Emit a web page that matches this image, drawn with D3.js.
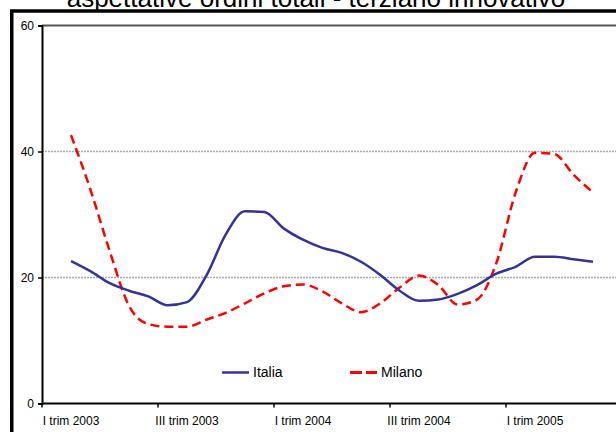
<!DOCTYPE html>
<html>
<head>
<meta charset="utf-8">
<script src="https://cdn.jsdelivr.net/npm/d3@7"></script>
<style>
  body { margin: 0; background: #fff; }
  svg { display: block; font-family: "Liberation Sans", Arial, sans-serif; }
</style>
</head>
<body>
<div id="chart"></div>
<script>
// quarters on the category axis (only every other one is labelled)
var quarters = ["I trim 2003", "II trim 2003", "III trim 2003", "IV trim 2003",
                "I trim 2004", "II trim 2004", "III trim 2004", "IV trim 2004",
                "I trim 2005", "II trim 2005"];
var labelQuarters = ["I trim 2003", "III trim 2003", "I trim 2004", "III trim 2004", "I trim 2005"];
var yTicks = [0, 20, 40, 60];

// monthly readings, first one sits in the middle of I trim 2003
var italia = [22.6, 21.0, 19.1, 17.9, 17.0, 15.6, 16.1, 20.3, 26.8, 30.5,
              30.4, 27.8, 26.0, 24.7, 23.9, 22.5, 20.4, 17.9, 16.3, 16.5,
              17.4, 18.8, 20.6, 21.7, 23.3, 23.3, 22.9, 22.5];
var milano = [42.6, 34.0, 24.2, 15.5, 12.6, 12.2, 12.2, 13.3, 14.4, 15.9,
              17.5, 18.6, 18.9, 17.8, 15.9, 14.5, 15.9, 18.4, 20.3, 18.8,
              15.7, 16.5, 22.3, 33.5, 39.8, 39.6, 36.3, 33.5];

function main() {
   drawChart();
}

function drawChart() {
   var W = 616, H = 432;
   var left = 42, right = 622, top = 25.5, bottom = 403.5;

   var svg = d3.select("#chart").append("svg")
      .attr("width", W)
      .attr("height", H);

   // outer chart border (cropped on right and bottom)
   svg.append("rect")
      .attr("x", 11.75).attr("y", 11)
      .attr("width", 700).attr("height", 500)
      .attr("fill", "none")
      .attr("stroke", "#000")
      .attr("stroke-width", 3.5);

   // title, mostly cut off at the top
   svg.append("text")
      .attr("x", 316).attr("y", 6.5)
      .attr("text-anchor", "middle")
      .style("font-size", "26px")
      .text("aspettative ordini totali - terziario innovativo");

   var xBand = d3.scaleBand()
      .domain(quarters)
      .range([left, right]);

   var x = d3.scaleLinear()
      .domain([0, quarters.length])
      .range([left, right]);

   var y = d3.scaleLinear()
      .domain([0, 60])
      .range([bottom, top]);

   // gridlines
   svg.append("g")
      .selectAll("line")
      .data(yTicks.filter(function(d) { return d > 0; }))
      .enter().append("line")
         .attr("x1", left).attr("x2", right)
         .attr("y1", function(d) { return y(d); })
         .attr("y2", function(d) { return y(d); })
         .attr("stroke", function(d) { return d == 60 ? "#555" : "#aaa"; })
         .attr("stroke-width", function(d) { return d == 60 ? 2 : 1.5; })
         .attr("stroke-dasharray", function(d) { return d == 60 ? null : "2,1"; });

   // y axis
   var yAxis = d3.axisLeft(y)
      .tickValues(yTicks)
      .tickSize(4)
      .tickPadding(4);
   var gy = svg.append("g")
      .attr("transform", "translate(" + left + ",0)")
      .call(yAxis);
   gy.select(".domain").attr("stroke", "#000").attr("stroke-width", 2);
   gy.selectAll(".tick line").attr("stroke", "#000").attr("stroke-width", 1.5);
   gy.selectAll("text").style("font-size", "12px").attr("fill", "#000")
      .attr("font-family", null);

   // x axis: labels centred in their quarter, ticks every two quarters
   var xAxis = d3.axisBottom(xBand)
      .tickValues(labelQuarters)
      .tickSize(0)
      .tickPadding(13);
   var gx = svg.append("g")
      .attr("transform", "translate(0," + bottom + ")")
      .call(xAxis);
   gx.select(".domain").remove();
   gx.selectAll("text").style("font-size", "12px").attr("fill", "#000")
      .attr("font-family", null);

   svg.append("line")
      .attr("x1", left).attr("x2", right)
      .attr("y1", bottom).attr("y2", bottom)
      .attr("stroke", "#000").attr("stroke-width", 2);

   svg.append("g")
      .selectAll("line")
      .data(labelQuarters)
      .enter().append("line")
         .attr("x1", function(d) { return xBand(d); })
         .attr("x2", function(d) { return xBand(d); })
         .attr("y1", bottom).attr("y2", bottom + 4)
         .attr("stroke", "#000").attr("stroke-width", 1.5);

   var line = d3.line()
      .x(function(d, i) { return x(0.5 + i / 3); })
      .y(function(d) { return y(d); })
      .curve(d3.curveMonotoneX);

   svg.append("path")
      .datum(milano)
      .attr("d", line)
      .attr("fill", "none")
      .attr("stroke", "#ff0000")
      .attr("stroke-width", 2.5)
      .attr("stroke-dasharray", "9,5");

   svg.append("path")
      .datum(italia)
      .attr("d", line)
      .attr("fill", "none")
      .attr("stroke", "#333399")
      .attr("stroke-width", 2.5);

   // legend
   var legend = [
      {name: "Italia", color: "#333399", dash: null, x: 222},
      {name: "Milano", color: "#ff0000", dash: "12,4", x: 350}
   ];
   var lg = svg.append("g")
      .selectAll("g")
      .data(legend)
      .enter().append("g")
         .attr("transform", function(d) { return "translate(" + d.x + ",372.5)"; });
   lg.append("line")
      .attr("x1", 0).attr("x2", 27)
      .attr("stroke", function(d) { return d.color; })
      .attr("stroke-width", function(d) { return d.dash ? 3 : 2.5; })
      .attr("stroke-dasharray", function(d) { return d.dash; });
   lg.append("text")
      .attr("x", 31).attr("dy", "0.35em")
      .style("font-size", "14px")
      .text(function(d) { return d.name; });
}

main();
</script>
</body>
</html>
